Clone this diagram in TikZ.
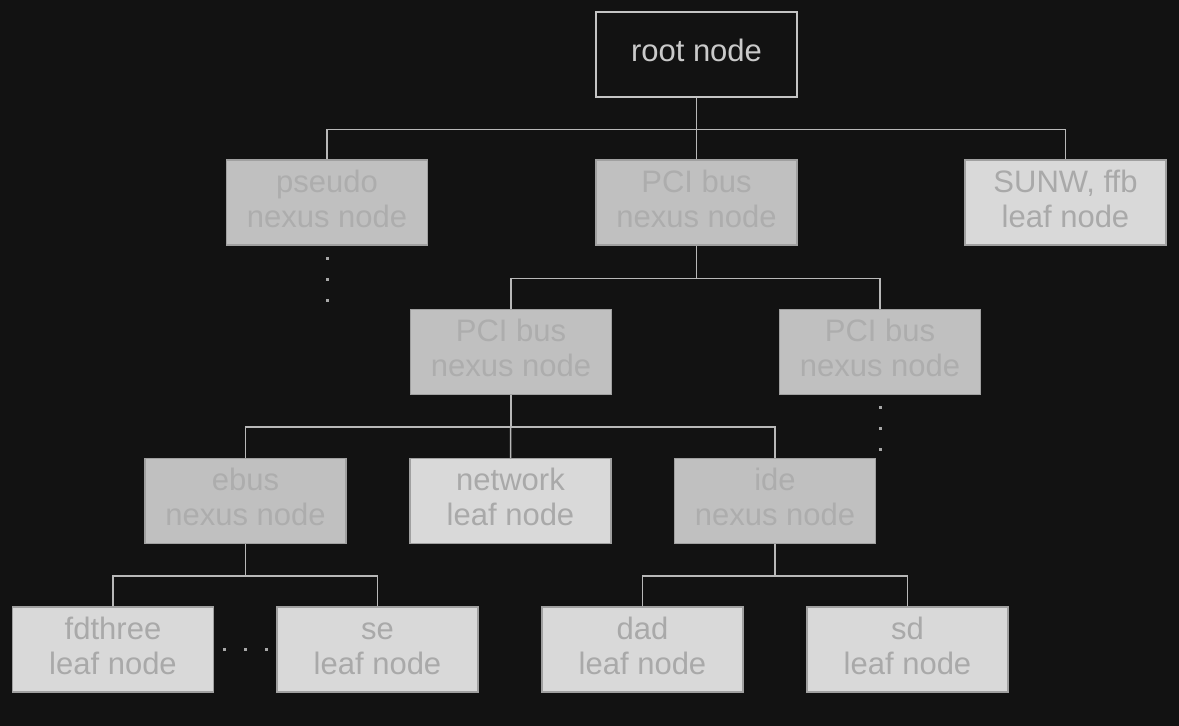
\documentclass[tikz,border=0pt]{standalone}
\usepackage{fontspec}
\setmainfont{Liberation Sans}
\usetikzlibrary{calc}
\definecolor{bg}{HTML}{121212}
\definecolor{nexfill}{HTML}{C0C0C0}
\definecolor{nextext}{HTML}{ADADAD}
\definecolor{leaffill}{HTML}{D9D9D9}
\definecolor{leaftext}{HTML}{A9A9A9}
\definecolor{boxline}{HTML}{A0A0A0}
\definecolor{linkcol}{HTML}{B8B8B8}
\definecolor{rootline}{HTML}{C4C4C4}
\definecolor{roottext}{HTML}{CACACA}
\definecolor{dotcol}{HTML}{A8A8A8}
\newcommand\twolines[2]{\strut#1\\\strut#2}
\begin{document}
\begin{tikzpicture}[x=1pt,y=-1pt,
  base/.style={rectangle, minimum width=201pt, minimum height=85pt, inner sep=0pt,
    align=center, font=\fontsize{31}{35}\selectfont, line width=1.5pt},
  rootbox/.style={base, draw=rootline, fill=bg, text=roottext},
  nexbox/.style={base, draw=boxline, fill=nexfill, text=nextext},
  leafbox/.style={base, draw=boxline, fill=leaffill, text=leaftext},
  link/.style={draw=linkcol, line width=1.5pt},
  dotmark/.style={fill=dotcol}]
\fill[bg] (0,0) rectangle (1179,726);
\useasboundingbox (0,0) rectangle (1179,726);
% nodes
\node[rootbox] (root) at (696.5,54.5) {\strut root node};
\node[nexbox] (pseudo) at (327,202.5) {\twolines{pseudo}{nexus node}};
\node[nexbox] (pci) at (696.5,202.5) {\twolines{PCI bus}{nexus node}};
\node[leafbox] (sunw) at (1065.5,202.5) {\twolines{SUNW, ffb}{leaf node}};
\node[nexbox] (pcil) at (511,352) {\twolines{PCI bus}{nexus node}};
\node[nexbox] (pcir) at (880,352) {\twolines{PCI bus}{nexus node}};
\node[nexbox] (ebus) at (245.5,501) {\twolines{ebus}{nexus node}};
\node[leafbox] (net) at (510.5,501) {\twolines{network}{leaf node}};
\node[nexbox] (ide) at (775,501) {\twolines{ide}{nexus node}};
\node[leafbox] (fd) at (113,649.5) {\twolines{fdthree}{leaf node}};
\node[leafbox] (se) at (377.5,649.5) {\twolines{se}{leaf node}};
\node[leafbox] (dad) at (642.5,649.5) {\twolines{dad}{leaf node}};
\node[leafbox] (sd) at (907.5,649.5) {\twolines{sd}{leaf node}};
% connectors
\draw[link] (root.south) -- ++(0,31.5) -| (pseudo.north);
\draw[link] (root.south) -- ++(0,31.5) -| (sunw.north);
\draw[link] (root.south) -- (pci.north);
\draw[link] (pci.south) -- ++(0,32.5) -| (pcil.north);
\draw[link] (pci.south) -- ++(0,32.5) -| (pcir.north);
\draw[link] (pcil.south) -- ++(0,31.5) -| (ebus.north);
\draw[link] (pcil.south) -- ++(0,31.5) -| (ide.north);
\draw[link] (pcil.south) -- (net.north);
\draw[link] (ebus.south) -- ++(0,31.5) -| (fd.north);
\draw[link] (ebus.south) -- ++(0,31.5) -| (se.north);
\draw[link] (ide.south) -- ++(0,31.5) -| (dad.north);
\draw[link] (ide.south) -- ++(0,31.5) -| (sd.north);
% dots
\foreach \dy in {12.5,33.5,54.5} {
  \fill[dotmark] ($(pseudo.south)+(-1.5,\dy-1.5)$) rectangle ++(3,3);
  \fill[dotmark] ($(pcir.south)+(-1.5,\dy-1.5)$) rectangle ++(3,3);
}
\foreach \dx in {10.5,31.5,52.5} {
  \fill[dotmark] ($(fd.east)+(\dx-1.5,-1.5)$) rectangle ++(3,3);
}
\end{tikzpicture}
\end{document}
